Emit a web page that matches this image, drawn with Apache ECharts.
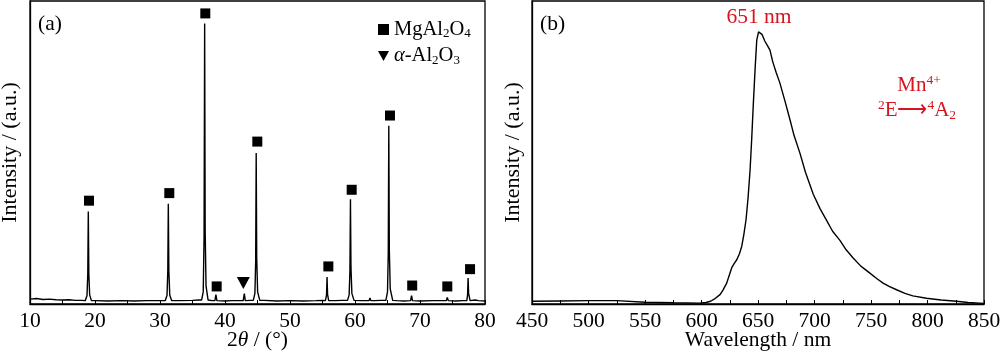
<!DOCTYPE html>
<html><head><meta charset="utf-8">
<script src="https://cdn.jsdelivr.net/npm/echarts@6/dist/echarts.min.js"></script>
<style>html,body{margin:0;padding:0;background:#fff}#c{width:1000px;height:355px}</style>
</head><body><div id="c"></div>
<script>
// ---- Data ----
// (a) XRD pattern: [2theta (deg), intensity (a.u.)]
const xrdPattern = [
 [10,1.6],[11,1.8],[12,1.5],[13,1.6],[14,1.4],[15,1.3],[16,1.4],[17,1.2],[18,1.2],
 [18.5,1.1],[18.77,2.8],[18.89,10],[18.97,30.5],[19.05,10],[19.18,3],[19.45,1.1],
 [20,1.1],[22,1.0],[24,1.1],[26,1.0],[28,1.1],[30,1.1],
 [30.8,1.1],[31.08,2.9],[31.2,11],[31.28,33.1],[31.36,11],[31.5,3],[31.8,1.1],
 [33,1.1],[35,1.2],[36,1.3],
 [36.4,1.3],[36.65,4],[36.78,22],[36.87,92.6],[36.95,24],[37.08,6],[37.4,1.3],
 [38,1.1],[38.45,1.1],[38.6,3.1],[38.75,1.1],
 [40,1.0],[41,1.1],[42,1.1],
 [42.8,1.1],[42.97,3.4],[43.12,1.1],[44,1.2],
 [44.35,1.2],[44.6,3.5],[44.72,14],[44.8,49.8],[44.88,15],[45.02,4],[45.35,1.2],
 [46,1.2],[48,1.0],[50,1.1],[52,1.0],[54,1.1],[55,1.2],
 [55.45,1.1],[55.62,3],[55.7,8.9],[55.78,3.2],[55.95,1.1],
 [57,1.1],[58,1.2],
 [58.85,1.2],[59.1,3],[59.22,11],[59.3,34.6],[59.38,12],[59.52,3.5],[59.85,1.2],
 [61,1.1],[62.15,1.1],[62.3,2.0],[62.45,1.1],[63,1.1],[64,1.2],
 [64.75,1.2],[65.0,4],[65.12,17],[65.2,58.8],[65.28,18],[65.42,5],[65.8,1.2],
 [66.5,1.1],[67.5,1.0],
 [68.55,1.1],[68.7,2.8],[68.85,1.1],
 [70,1.0],[72,1.1],[73.5,1.1],
 [74.05,1.1],[74.2,2.2],[74.35,1.1],
 [75.5,1.0],[76.5,1.1],
 [77.2,1.1],[77.32,3],[77.4,8.6],[77.48,3.5],[77.6,2.2],[77.7,1.1],
 [78.5,1.3],[79,1.1],[80,1.0]
];
// Phase markers [2theta, marker height]
const spinelMarks = [
 [19.08,34.1],[31.43,36.6],[36.97,95.9],[38.72,5.8],[44.97,53.6],[55.9,12.4],
 [59.49,37.7],[65.38,62.2],[68.8,6.1],[74.2,5.8],[77.7,11.5]
];
const aluminaMarks = [[42.82,6.9]];
const seriesNames = ['MgAl2O4', 'α-Al2O3'];
const xrdTicks = {min:10, max:80, step:10};

// (b) PL emission spectrum: [wavelength (nm), intensity (a.u.)]
const plSpectrum = [
 [450,0.9],[475,1.0],[500,1.1],[525,1.1],[550,0.6],[575,0.4],[598,0.3],[604,0.5],
 [608,0.9],[612,1.8],[616.4,3.1],[619,4.6],[622.3,6.9],[625,10],[627,12.2],[629,13.4],
 [631.2,14.6],[633.5,16.5],[635.6,19],[637.5,23],[639.4,27.8],[641.2,35],[643,44.3],
 [644.5,55],[645.9,66.3],[647.5,78],[648.9,87.1],[650.5,89.8],[651.8,90.4],[653.5,89],
 [656,86.8],[658.5,85.2],[660.6,83.8],[663,80],[666,76.5],[669.4,72.9],[674,66.8],
 [678.3,60.8],[682,55.5],[687.1,49.8],[692,43.5],[698.9,36.2],[705,31.4],[710.7,27.6],
 [716,24],[722.5,21],[728,17.9],[734.2,15.2],[741,12.5],[749,10.2],[755,8.4],
 [760.7,6.9],[766,5.8],[772.6,4.7],[780,3.5],[787,2.7],[799.1,1.9],[812,1.3],
 [825.6,0.9],[836,0.5],[846,0.3],[850,0.2]
];
const plTicks = {min:450, max:850, step:50};

// ---- Chart ----
const SERIF = '"Liberation Serif","Times New Roman",serif';
const RED = '#d7141e';
const FS = 21.5;
const chart = echarts.init(document.getElementById('c'), null, {renderer:'canvas'});

function xAxisCommon(t, nameRich) {
  return {
    type:'value', min:t.min, max:t.max, interval:t.step,
    axisLine:{show:true, lineStyle:{color:'#000', width:1.3}},
    axisTick:{show:true, inside:true, length:4, lineStyle:{color:'#000', width:1}},
    minorTick:{show:true, splitNumber:2, length:4, lineStyle:{color:'#000', width:1}},
    splitLine:{show:false},
    axisLabel:{color:'#000', fontFamily:SERIF, fontSize:FS, margin:6},
    nameLocation:'middle', nameGap:25, nameMoveOverlap:false,
    name: nameRich,
    nameTextStyle:{color:'#000', fontFamily:SERIF, fontSize:FS,
      rich:{t:{fontFamily:SERIF, fontSize:FS, color:'#000'},
            i:{fontFamily:SERIF, fontSize:FS, fontStyle:'italic', color:'#000'}}}
  };
}
function yAxisCommon(gap) {
  return {
    type:'value', min:0, max:100,
    axisLine:{show:true, lineStyle:{color:'#000', width:1.3}},
    axisTick:{show:false}, axisLabel:{show:false}, splitLine:{show:false},
    name:'Intensity / (a.u.)', nameLocation:'middle', nameGap:gap, nameRotate:90,
    nameMoveOverlap:false,
    nameTextStyle:{color:'#000', fontFamily:SERIF, fontSize:22}
  };
}

const triPath = 'path://M0,0L10,0L5,9Z';

chart.setOption({
  animation:false,
  backgroundColor:'#fff',
  grid:[
    {left:30, right:515, top:1, bottom:51, show:true, borderColor:'#000', borderWidth:1.3,
     containLabel:false, outerBoundsMode:'none'},
    {left:532, right:16, top:1, bottom:51, show:true, borderColor:'#000', borderWidth:1.3,
     containLabel:false, outerBoundsMode:'none'}
  ],
  xAxis:[
    Object.assign(xAxisCommon(xrdTicks, '{t|2}{i|θ}{t| / (°)}'), {gridIndex:0}),
    Object.assign(xAxisCommon(plTicks, 'Wavelength / nm'), {gridIndex:1})
  ],
  yAxis:[
    Object.assign(yAxisCommon(9), {gridIndex:0}),
    Object.assign(yAxisCommon(8), {gridIndex:1})
  ],
  legend:{
    orient:'vertical', left:373, top:14, itemGap:5, itemWidth:11, itemHeight:11,
    selectedMode:false,
    data:[{name:seriesNames[0], icon:'rect'}, {name:seriesNames[1], icon:triPath}],
    formatter: function(n){
      if (n === seriesNames[0]) return '{t|MgAl}{s|2}{t|O}{s|4}';
      return '{i|α}{t|-Al}{s|2}{t|O}{s|3}';
    },
    textStyle:{color:'#000', fontFamily:SERIF, fontSize:20.5,
      rich:{
        t:{fontFamily:SERIF, fontSize:20.5, color:'#000'},
        i:{fontFamily:SERIF, fontSize:20.5, fontStyle:'italic', color:'#000'},
        s:{fontFamily:SERIF, fontSize:13, color:'#000', padding:[9,0,0,0]}
      }}
  },
  series:[
    {type:'line', xAxisIndex:0, yAxisIndex:0, data:xrdPattern, showSymbol:false,
     lineStyle:{color:'#000', width:1.4}, silent:true},
    {name:seriesNames[0], type:'scatter', xAxisIndex:0, yAxisIndex:0, data:spinelMarks,
     symbol:'rect', symbolSize:10, itemStyle:{color:'#000', opacity:1}},
    {name:seriesNames[1], type:'scatter', xAxisIndex:0, yAxisIndex:0, data:aluminaMarks,
     symbol:triPath, symbolSize:[13,12], itemStyle:{color:'#000', opacity:1}},
    {type:'line', xAxisIndex:1, yAxisIndex:1, data:plSpectrum, showSymbol:false,
     lineStyle:{color:'#000', width:1.4}, silent:true}
  ],
  graphic:[
    {type:'text', left:38, top:13, style:{text:'(a)', font:'21.5px '+SERIF, fill:'#000'}},
    {type:'text', left:540, top:13, style:{text:'(b)', font:'21.5px '+SERIF, fill:'#000'}},
    {type:'text', x:759, y:17, style:{text:'651 nm', font:'21.5px '+SERIF, fill:RED,
      textAlign:'center', textVerticalAlign:'middle'}},
    {type:'text', x:919, y:85, style:{text:'{t|Mn}{p|4+}', textAlign:'center', textVerticalAlign:'middle',
      rich:{t:{fontFamily:SERIF, fontSize:21, fill:RED, color:RED},
            p:{fontFamily:SERIF, fontSize:13.5, fill:RED, color:RED, padding:[0,0,10,0]}}}},
    {type:'text', x:917, y:110, style:{text:'{p|2}{t|E⟶}{p|4}{t|A}{s|2}', textAlign:'center', textVerticalAlign:'middle',
      rich:{t:{fontFamily:SERIF, fontSize:21, fill:RED, color:RED},
            p:{fontFamily:SERIF, fontSize:13.5, fill:RED, color:RED, padding:[0,0,10,0]},
            s:{fontFamily:SERIF, fontSize:13.5, fill:RED, color:RED, padding:[10,0,0,0]}}}}
  ]
});
</script></body></html>
